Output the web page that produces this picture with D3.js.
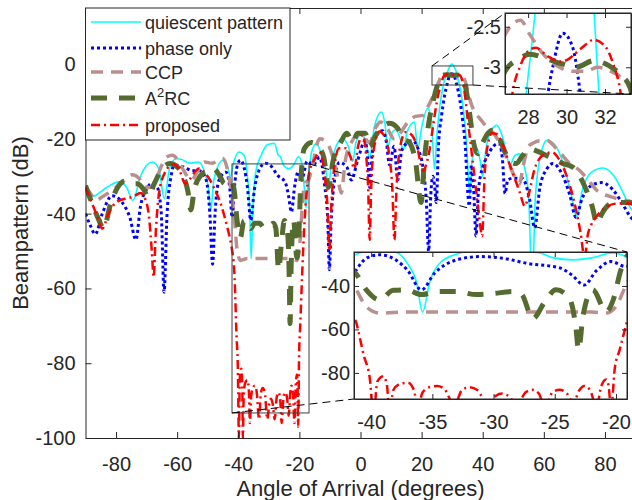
<!DOCTYPE html>
<html><head><meta charset="utf-8">
<script src="https://cdn.jsdelivr.net/npm/d3@7"></script>
<style>body{margin:0;background:#fff}svg{display:block}text{font-family:"Liberation Sans",Arial,Helvetica,sans-serif;fill:#262626}</style>
</head><body><svg id="c" width="632" height="500"></svg>
<script>
// ---------- data ----------
const xTicks = [-80,-60,-40,-20,0,20,40,60,80];
const yTicks = [-100,-80,-60,-40,-20,0];
const inset1XTicks = [28,30,32];
const inset1YTicks = [-3,-2.5];
const inset2XTicks = [-40,-35,-30,-25,-20];
const inset2YTicks = [-80,-60,-40];
const seriesNames = ["quiescent pattern","phase only","CCP","A2RC","proposed"];

const quiescent = [[-90,-34],[-88,-35.5],[-86.5,-35],[-83.5,-33.2],[-79,-31.5],[-76.5,-33],[-74.5,-36.5],[-72,-30],[-68.2,-26.2],[-66,-28],[-64.2,-36],[-62.5,-28],[-60.4,-25.3],[-58.5,-25.5],[-56,-26.5],[-53,-26.2],[-51,-29],[-49.8,-33],[-49,-39.2],[-48,-31],[-45.1,-25.8],[-43.5,-27.5],[-42.6,-30],[-41.3,-25.7],[-39.8,-23.5],[-38,-24.5],[-37,-30],[-36.3,-38],[-35.8,-52],[-35.2,-38],[-34.3,-29],[-32.5,-24.4],[-30.5,-21.6],[-28.2,-21.2],[-26.9,-24.4],[-26.2,-24.8],[-25.2,-27],[-23.5,-28],[-21.9,-27],[-20.3,-24.8],[-19.1,-27],[-18.4,-33],[-17.8,-38.4],[-17,-30],[-16,-23.5],[-14.5,-21.3],[-12.8,-24],[-11.4,-28],[-10.5,-33],[-9.6,-27],[-8,-22],[-5.9,-19.9],[-4,-22],[-2.5,-26],[-1.5,-21],[0,-19],[1.5,-20],[3,-25],[4.5,-17],[6.8,-12.8],[8,-16],[8.9,-22.2],[10,-19],[11.5,-17.5],[13,-20],[14,-23],[15.3,-18],[17.7,-15.5],[18.7,-23],[20,-17],[22,-11.8],[23.2,-15],[24.2,-28],[25,-19],[26,-11],[27,-6],[27.9,-3.33],[28.2,-2.7],[28.42,-2.2],[29,-1],[29.9,0],[30.8,-1],[31.4,-2.2],[31.6,-3],[32.5,-6],[33.5,-11],[34.5,-19],[35.3,-30],[35.8,-35],[36.5,-26],[37.8,-22],[39.2,-26],[40,-30],[41,-23],[43,-17.5],[44.6,-16.4],[46.5,-19.5],[48.9,-27],[50.5,-24.5],[52,-24],[53.5,-27],[55,-35],[56.2,-60],[57.2,-36],[58.8,-25],[61,-20.4],[63.5,-21.5],[66.5,-27],[69,-35],[70.8,-41],[72.5,-34],[75.5,-29],[79.3,-27.8],[83,-30],[86,-34.5],[88,-38],[90,-40]];

const phaseOnly = [[-90,-40],[-88.5,-43],[-86.8,-45.5],[-84.5,-40],[-81.3,-35.2],[-78,-37],[-75.5,-41],[-73.5,-47],[-72,-38],[-70,-33.5],[-68.5,-32],[-66.5,-33],[-65.2,-40],[-64.3,-61],[-63.3,-40],[-62,-30],[-61,-27],[-58,-27.5],[-55,-28.5],[-52.8,-28.5],[-50.5,-31],[-49.3,-40],[-48.4,-53.5],[-47.6,-40],[-46.3,-31],[-44,-28.9],[-42.8,-33],[-42,-41],[-41.3,-33.4],[-40.3,-27],[-39.3,-25.7],[-38,-28],[-37,-33],[-35.9,-41.8],[-34.8,-34],[-33,-28],[-31.1,-26.5],[-29,-27.5],[-27.3,-29.6],[-24.6,-31.7],[-23.6,-35],[-22.6,-39.6],[-21.6,-33],[-20.4,-28.8],[-19.2,-31.1],[-18.5,-29],[-17.5,-26],[-15.5,-27],[-13.4,-24.9],[-11.8,-32],[-10.7,-42],[-10.2,-55],[-9.6,-42],[-8.5,-31],[-6.9,-26.3],[-4.5,-27.5],[-3,-31],[-1,-26],[1.5,-20.5],[2.5,-27],[3,-33],[3.7,-25],[5,-19.5],[7.2,-17.8],[8.5,-21],[9.5,-27],[11,-22],[12.2,-31],[13.5,-23],[15.5,-21],[17,-20.5],[19,-23],[20.5,-28],[21.5,-36],[22.3,-50],[23,-35],[23.7,-30],[24.3,-33],[24.8,-37],[25.5,-22],[26.5,-14],[27.5,-8.5],[28.3,-5.5],[29.05,-3.3],[29.3,-2.98],[29.8,-2.58],[30.3,-2.74],[30.7,-3.3],[31.5,-5.5],[32.5,-9.5],[33.5,-15.5],[34.3,-22],[35,-33],[35.6,-38],[36.3,-27],[37,-33],[37.8,-46],[38.6,-34],[40,-27.5],[41.3,-25],[43.5,-22],[45.3,-21.2],[46.4,-25],[47.3,-34.6],[48.2,-31],[50,-30.5],[53,-30.6],[55.3,-36],[57,-43.8],[58.7,-33],[61,-28],[63,-26.6],[66,-29.5],[68.5,-35],[70.5,-41],[72.5,-36],[75.5,-32.5],[78.8,-31.7],[82.5,-33.5],[85.5,-37],[88.5,-41],[90,-42]];

const ccp = [[-90,-33],[-88,-35],[-86.7,-36.5],[-84.5,-35.5],[-81.7,-34],[-78.5,-32],[-74.7,-29.6],[-72.5,-30.5],[-70.5,-32.8],[-69,-33],[-67,-31],[-65,-27],[-63.3,-24.8],[-61.6,-24.4],[-59.5,-26],[-57.5,-29],[-55.3,-31],[-53.5,-29],[-51.1,-26.2],[-48.5,-26.5],[-47,-26],[-45.2,-25.2],[-43.6,-28],[-42.3,-34],[-41.3,-41],[-40.4,-49.5],[-39.3,-52.5],[-37,-52],[-30,-52],[-22,-52],[-20.8,-52.5],[-20,-49.5],[-19.1,-38.7],[-18.3,-32],[-17,-31],[-15.7,-27],[-13.4,-20],[-11,-21],[-9,-25],[-7.5,-30],[-6.3,-34.5],[-5,-26],[-3,-21],[-1,-19],[1,-19.5],[3,-21],[5,-17],[6.5,-15.5],[9,-17.5],[11,-20],[13,-18.5],[15.5,-15.5],[18,-14],[20.4,-13.7],[22,-11.5],[23.5,-9],[24.5,-7],[25.5,-5],[26.4,-3.3],[26.8,-2.6],[27.6,-2.42],[28.1,-2.6],[28.8,-2.84],[29.5,-2.98],[30.3,-3.05],[31,-3.05],[31.6,-3],[32.3,-3.05],[32.8,-3.12],[33.3,-3.25],[34.2,-4.5],[35,-6.8],[36,-10],[37.5,-13],[39,-14.5],[41,-16.5],[44,-19],[46.5,-22.5],[49,-27.5],[51,-31],[52,-32],[53.3,-27],[55,-22],[56.4,-21.2],[58.5,-20.5],[61,-20.4],[64,-22.5],[68.5,-26.6],[71.8,-28.5],[74.5,-31],[77.4,-33.8],[82,-35.5],[87,-36.5],[90,-37]];

const a2rc = [[-90,-32.5],[-88,-37],[-86,-41],[-84,-44],[-82,-38],[-79.5,-33],[-77.2,-31.3],[-75,-32],[-73,-32],[-71,-33.5],[-69.5,-35.5],[-67.5,-32],[-65,-28],[-62.3,-26.6],[-60,-27.5],[-58,-30],[-56.5,-34],[-55.5,-39],[-54.5,-34],[-52.5,-30],[-50,-28.5],[-48,-28],[-46,-30],[-44.5,-32],[-43,-31],[-42,-31.5],[-41.3,-34],[-40.4,-41.8],[-39.3,-46.4],[-38.2,-42],[-37.1,-41.8],[-35.9,-44],[-34.6,-42.6],[-33,-42.6],[-31.4,-44],[-30,-43.5],[-28.5,-42.6],[-27.7,-44],[-26.8,-55],[-25.8,-47.2],[-24.9,-41.8],[-23.8,-45.7],[-23.3,-58],[-23.05,-69.4],[-22.7,-54],[-21.9,-41.8],[-20.8,-51.8],[-20.2,-46],[-19.6,-32.6],[-18.4,-22.6],[-16,-21],[-14,-22],[-12,-25],[-10.5,-33],[-9,-26],[-6.5,-21],[-4.5,-18.5],[-2.5,-21],[-1,-18.5],[1.5,-18.5],[3,-22],[5,-19],[7,-17],[9.5,-15.8],[12,-17],[14,-20],[16,-21],[18,-26],[19.8,-37],[21,-25],[22.3,-16],[23.5,-11],[24.5,-7.5],[25.5,-5],[26.2,-3.7],[26.8,-3.05],[27.5,-2.9],[28.1,-2.84],[29,-2.9],[29.8,-2.96],[30.5,-3],[31.4,-2.92],[32.2,-2.98],[32.8,-3.09],[33.3,-3.25],[34,-4.8],[35,-9],[36,-15],[37,-21],[38.4,-24],[40,-21],[41.7,-18.5],[43.3,-17.7],[45,-19],[47,-23],[49,-26],[51,-26.6],[53,-24.5],[55.4,-22.6],[57,-23],[58.7,-23.6],[61,-24.5],[63,-25.2],[66,-26.5],[69.5,-27.6],[71,-29],[73,-32],[74.3,-34.5],[75.8,-38],[77.4,-42.7],[79,-40],[82,-37.3],[85,-37],[88,-37],[90,-37.5]];

const proposed = [[-90,-33],[-88.5,-36],[-86.5,-40],[-84.5,-44],[-82.5,-40],[-80,-37],[-77,-36],[-74.5,-35.5],[-72,-34.5],[-70.5,-36],[-69.2,-41],[-68.3,-50],[-67.7,-57],[-67,-45],[-66,-35],[-64,-29],[-61.3,-26.8],[-59.5,-28],[-57.3,-32],[-56,-31],[-54.8,-29.5],[-52.8,-27.9],[-50.5,-29.5],[-48,-33],[-45.5,-38],[-43.5,-44],[-42.4,-48],[-41.3,-55.6],[-40.6,-72],[-40.1,-83],[-39.8,-100],[-39.5,-84],[-39,-81.5],[-38.7,-86],[-38.5,-100],[-38.2,-88],[-37.6,-85],[-37,-84.5],[-36.5,-88],[-36.2,-96],[-35.8,-89],[-35.2,-86.5],[-34.6,-86],[-34,-87.5],[-33.2,-95],[-32.6,-88],[-32,-86.6],[-31.3,-88],[-30.5,-95],[-29.8,-90.5],[-29.3,-89.5],[-28.7,-91],[-28.1,-95],[-27.4,-89],[-26.8,-87.8],[-26.3,-89.5],[-25.8,-96],[-25.2,-89],[-24.6,-87.8],[-24,-89.5],[-23.5,-94],[-23,-88],[-22.6,-86],[-22.1,-88],[-21.6,-96],[-21.2,-86],[-20.8,-83],[-20.6,-86],[-20.4,-97],[-20.1,-78],[-19.7,-69.4],[-19.1,-56.4],[-18.5,-45],[-17.5,-33],[-16.3,-27.5],[-15,-25.5],[-13.4,-23.5],[-12,-28],[-10.9,-37],[-10.2,-50],[-9.5,-37],[-8.5,-27],[-7,-22.5],[-5,-22.5],[-3.2,-25],[-2,-28],[-0.8,-22],[0.7,-19],[1.8,-24],[2.5,-33],[3,-47],[3.5,-33],[4.5,-22],[6.2,-18],[8,-19.5],[9.5,-25],[10.4,-33],[11.1,-47],[11.8,-33],[13,-22],[14.8,-18.2],[16.8,-19],[18.5,-22],[20.4,-28.5],[21.8,-26],[22.6,-23],[23.5,-18],[24.5,-12.5],[25.5,-8],[26.5,-5],[27.2,-3.3],[27.6,-2.98],[28.1,-2.78],[28.4,-2.76],[29,-2.86],[29.7,-2.93],[30.1,-2.9],[30.5,-2.82],[31,-2.72],[31.4,-2.66],[32,-2.74],[32.4,-2.94],[32.8,-3.3],[33.5,-5],[34.3,-9],[35.1,-15],[36,-21],[37,-28],[38,-35],[39,-42],[39.8,-46],[40.6,-30],[41.8,-21],[43,-18.5],[44.5,-18.7],[46,-20.5],[48,-25],[50,-29.5],[52,-34],[53.8,-38],[55,-35],[57,-28],[59.5,-24.5],[62.8,-23.6],[65,-25.5],[67.5,-30],[70,-37],[72,-45],[73.4,-52],[74.3,-46],[75.5,-43],[77,-41],[80,-38.5],[84,-37.3],[88,-37.3],[90,-38]];

// zoom windows (data units)
const zoom1Win = {x:[26.8,33.35], y:[-3.33,-2.33]};
const zoom1Mark = {x:[23.4,36.8], y:[-5.6,-0.5]};
const zoom2Win = {x:[-41.4,-19.1], y:[-92,-24.4]};
const zoom2Mark = {x:[-42.05,-16.85], y:[-93.3,-26.7]};

// ---------- drawing ----------
const series = [
  {name:seriesNames[0], data:quiescent, color:"#00FFFF", w:1.6, dash:null},
  {name:seriesNames[1], data:phaseOnly, color:"#0000FF", w:3, dash:"3,3"},
  {name:seriesNames[2], data:ccp, color:"#BC8F8F", w:3.5, dash:"12,8"},
  {name:seriesNames[3], data:a2rc, color:"#556B2F", w:5, dash:"16,12"},
  {name:seriesNames[4], data:proposed, color:"#FF0000", w:2.5, dash:"9,4,2,4"}
];
const AX = "#262626";
const svg = d3.select("#c");
const defs = svg.append("defs");

const M = {l:85.5, r:635.5, t:8, b:438};
const x = d3.scaleLinear().domain([-90,90]).range([M.l, M.r]);
const y = d3.scaleLinear().domain([-100,15]).range([M.b, M.t]);

function clip(id, x0, y0, x1, y1){
  defs.append("clipPath").attr("id", id).append("rect")
    .attr("x", x0).attr("y", y0).attr("width", x1-x0).attr("height", y1-y0);
}
function drawSeries(g, xs, ys, clipId){
  const gg = g.append("g").attr("clip-path", `url(#${clipId})`);
  const line = d3.line().x(d=>xs(d[0])).y(d=>ys(d[1])).curve(d3.curveMonotoneX);
  series.forEach(s=>{
    gg.append("path").datum(s.data).attr("d", line)
      .attr("fill","none").attr("stroke", s.color).attr("stroke-width", s.w)
      .attr("stroke-dasharray", s.dash).attr("stroke-linejoin","round");
  });
}
function styleAxis(g, fs){
  g.attr("font-size", fs).attr("font-family", '"Liberation Sans",Arial,sans-serif');
  g.selectAll("path,line").attr("stroke", AX).attr("stroke-width", 1);
  g.selectAll("text").attr("fill", AX);
}

// main curves
clip("cMain", M.l, M.t, M.r, M.b);
drawSeries(svg, x, y, "cMain");

// main axes
const fmt = d => String(d);
styleAxis(svg.append("g").attr("transform",`translate(0,${M.b})`)
  .call(d3.axisBottom(x).tickValues(xTicks).tickSizeInner(-6).tickSizeOuter(0).tickPadding(19).tickFormat(fmt)), 20);
styleAxis(svg.append("g").attr("transform",`translate(0,${M.t})`)
  .call(d3.axisTop(x).tickValues(xTicks).tickSizeInner(-6).tickSizeOuter(0).tickFormat("")), 20);
styleAxis(svg.append("g").attr("transform",`translate(${M.l},0)`)
  .call(d3.axisLeft(y).tickValues(yTicks).tickSizeInner(-6).tickSizeOuter(0).tickPadding(10).tickFormat(fmt)), 20);

svg.append("text").attr("x", (M.l+M.r)/2).attr("y", 496).attr("text-anchor","middle")
  .attr("font-size", 22).text("Angle of Arrival (degrees)");
svg.append("text").attr("transform", `translate(28,${(M.t+M.b)/2}) rotate(-90)`).attr("text-anchor","middle")
  .attr("font-size", 22).text("Beampattern (dB)");

// mark rectangles on main plot
function markRect(m){
  svg.append("rect").attr("x", x(m.x[0])).attr("y", y(m.y[1]))
    .attr("width", x(m.x[1])-x(m.x[0])).attr("height", y(m.y[0])-y(m.y[1]))
    .attr("fill","none").attr("stroke", "#404040").attr("stroke-width", 1);
}
markRect(zoom1Mark);
markRect(zoom2Mark);

// insets
function inset(id, box, win, xt, yt, yFmt){
  const xs = d3.scaleLinear().domain(win.x).range([box.x0, box.x1]);
  const ys = d3.scaleLinear().domain(win.y).range([box.y1, box.y0]);
  const g = svg.append("g");
  g.append("rect").attr("x", box.x0).attr("y", box.y0).attr("width", box.x1-box.x0).attr("height", box.y1-box.y0).attr("fill","#fff");
  clip(id, box.x0, box.y0, box.x1, box.y1);
  drawSeries(g, xs, ys, id);
  styleAxis(g.append("g").attr("transform",`translate(0,${box.y1})`)
    .call(d3.axisBottom(xs).tickValues(xt).tickSizeInner(-5).tickSizeOuter(0).tickPadding(16).tickFormat(fmt)), 20);
  styleAxis(g.append("g").attr("transform",`translate(0,${box.y0})`)
    .call(d3.axisTop(xs).tickValues(xt).tickSizeInner(-5).tickSizeOuter(0).tickFormat("")), 20);
  styleAxis(g.append("g").attr("transform",`translate(${box.x0},0)`)
    .call(d3.axisLeft(ys).tickValues(yt).tickSizeInner(-5).tickSizeOuter(0).tickPadding(4).tickFormat(yFmt)), 20);
  styleAxis(g.append("g").attr("transform",`translate(${box.x1},0)`)
    .call(d3.axisRight(ys).tickValues(yt).tickSizeInner(-5).tickSizeOuter(0).tickFormat("")), 20);
  g.append("rect").attr("x", box.x0).attr("y", box.y0).attr("width", box.x1-box.x0).attr("height", box.y1-box.y0)
    .attr("fill","none").attr("stroke", AX).attr("stroke-width", 1);
  return {xs, ys};
}
const box1 = {x0:505, x1:631, y0:13, y1:94};
const box2 = {x0:354, x1:627, y0:252, y1:399};
inset("cIn1", box1, zoom1Win, inset1XTicks, inset1YTicks, fmt);
inset("cIn2", box2, zoom2Win, inset2XTicks, inset2YTicks, fmt);

// connector lines
function conn(x1,y1,x2,y2){
  svg.append("line").attr("x1",x1).attr("y1",y1).attr("x2",x2).attr("y2",y2)
    .attr("stroke","#000").attr("stroke-width",1).attr("stroke-dasharray","8,5");
}
conn(x(zoom1Mark.x[0]), y(zoom1Mark.y[1]), box1.x0, box1.y0);
conn(x(zoom1Mark.x[1]), y(zoom1Mark.y[0]), box1.x1, box1.y1);
conn(x(zoom2Mark.x[1]), y(zoom2Mark.y[1]), box2.x1, box2.y0);
conn(x(zoom2Mark.x[0]), y(zoom2Mark.y[0]), box2.x0, box2.y1);

// legend
const L = {x0:M.l, y0:M.t, x1:290, y1:140};
const lg = svg.append("g");
lg.append("rect").attr("x", L.x0).attr("y", L.y0).attr("width", L.x1-L.x0).attr("height", L.y1-L.y0)
  .attr("fill","#fff").attr("stroke", AX).attr("stroke-width", 1);
const rowY = [22, 48, 72, 98, 125];
series.forEach((s,i)=>{
  lg.append("line").attr("x1", 91).attr("x2", 141).attr("y1", rowY[i]).attr("y2", rowY[i])
    .attr("stroke", s.color).attr("stroke-width", s.w).attr("stroke-dasharray", s.dash);
  const t = lg.append("text").attr("x", 145).attr("y", rowY[i]+6.5).attr("font-size", 18);
  if (s.name === "A2RC"){
    t.append("tspan").text("A");
    t.append("tspan").attr("font-size", 13).attr("dy", -8).text("2");
    t.append("tspan").attr("dy", 8).text("RC");
  } else t.text(s.name);
});
</script></body></html>
